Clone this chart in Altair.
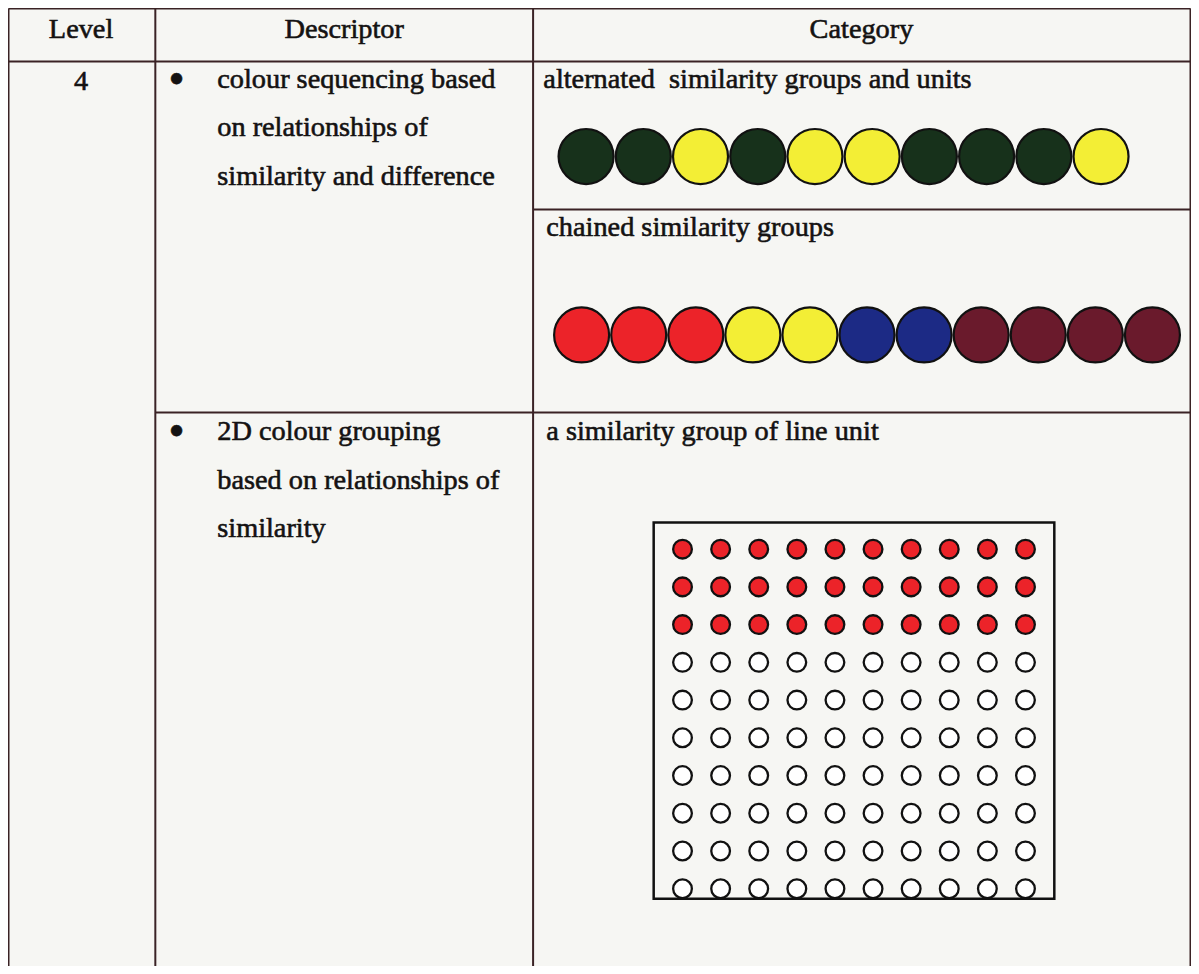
import altair as alt
import pandas as pd

# ---------------- data ----------------
header_labels = ["Level", "Descriptor", "Category"]
level_label = "4"
descriptor_1 = ["colour sequencing based", "on relationships of", "similarity and difference"]
descriptor_2 = ["2D colour grouping", "based on relationships of", "similarity"]
category_titles = ["alternated\u00a0 similarity groups and units",
                   "chained similarity groups",
                   "a similarity group of line unit"]
alternated_sequence = ["dark green", "dark green", "yellow", "dark green", "yellow",
                       "yellow", "dark green", "dark green", "dark green", "yellow"]
chained_sequence = ["red", "red", "red", "yellow", "yellow", "blue", "blue",
                    "maroon", "maroon", "maroon", "maroon"]
grid_rows = list(range(10))
grid_cols = list(range(10))
grid_filled_rows = 3
colour_names = ["dark green", "yellow", "red", "blue", "maroon", "white"]
colour_values = ["#17311b", "#f3ee35", "#ec2329", "#1c2a85", "#6a1a2c", "#ffffff"]

# ---------------- layout helpers (reference pixels -> plot pixels) ----------------
W, H = 1183, 958


def px(x):
    return round(0.5 + (x - 4) * (W - 1) / (1193 - 4), 2)


def py(y):
    return round(0.5 + (y - 7) * (H - 0.5) / (974 - 7), 2)


FONT = "Liberation Serif"
FS = 28.3
LINE = "#3a2225"
TXT = "#141212"

one = pd.DataFrame({"k": [0]})
layers = []

# table lines
h_lines = [(7, 4, 1193), (60.5, 4, 1193), (210, 531.7, 1193), (415, 151.7, 1193)]
v_lines = [4, 151.7, 531.7, 1193]
for y, x1, x2 in h_lines:
    layers.append(alt.Chart(one).mark_rule(color=LINE, strokeWidth=2).encode(
        x=alt.value(px(x1)), x2=alt.value(px(x2)), y=alt.value(py(y)), y2=alt.value(py(y))))
for x in v_lines:
    layers.append(alt.Chart(one).mark_rule(color=LINE, strokeWidth=2).encode(
        x=alt.value(px(x)), x2=alt.value(px(x)), y=alt.value(py(7)), y2=alt.value(H)))

# texts: (text, x, baseline y, align, size)
texts = [
    (header_labels[0], 77, 36.5, "center", FS),
    (header_labels[1], 341.7, 36.5, "center", FS),
    (header_labels[2], 862, 36.5, "center", FS),
    (level_label, 77, 89, "center", FS),
    ("\u2022", 173, 93, "center", 46),
    ("\u2022", 173, 449, "center", 46),
    (category_titles[0], 542, 87, "left", FS),
    (category_titles[1], 545, 237, "left", FS),
    (category_titles[2], 545, 443, "left", FS),
]
for i, t in enumerate(descriptor_1):
    texts.append((t, 214, 87 + 49 * i, "left", FS))
for i, t in enumerate(descriptor_2):
    texts.append((t, 214, 443 + 49 * i, "left", FS))

for t, x, y, al, fs in texts:
    layers.append(alt.Chart(one).mark_text(
        text=t, font=FONT, fontSize=fs, color=TXT, stroke=TXT, strokeWidth=0.6,
        align=al, baseline="alphabetic"
    ).encode(x=alt.value(px(x)), y=alt.value(py(y))))

fill_scale = alt.Scale(domain=colour_names, range=colour_values)


def seq_layer(seq, x_first, x_last, y_centre):
    df = pd.DataFrame({"pos": list(range(len(seq))), "colour": seq})
    return alt.Chart(df).mark_point(
        shape="circle", filled=True, size=3025, stroke="#111111", strokeWidth=2.2,
        opacity=1, fillOpacity=1, strokeOpacity=1
    ).encode(
        x=alt.X("pos:Q", axis=None,
                scale=alt.Scale(domain=[0, len(seq) - 1], range=[px(x_first), px(x_last)],
                                nice=False, zero=False)),
        y=alt.value(py(y_centre)),
        fill=alt.Fill("colour:N", scale=fill_scale, legend=None),
    )


layers.append(seq_layer(alternated_sequence, 585, 1103, 156.5))
layers.append(seq_layer(chained_sequence, 580.5, 1154.7, 336.7))

# grid of dots
grid = pd.DataFrame(
    [{"row": r, "col": c, "colour": "red" if r < grid_filled_rows else "white"}
     for r in grid_rows for c in grid_cols]
)
layers.append(alt.Chart(grid).mark_point(
    shape="circle", filled=True, size=350, stroke="#111111", strokeWidth=2.3,
    opacity=1, fillOpacity=1, strokeOpacity=1
).encode(
    x=alt.X("col:Q", axis=None,
            scale=alt.Scale(domain=[0, 9], range=[px(682), px(1027)], nice=False, zero=False)),
    y=alt.Y("row:Q", axis=None,
            scale=alt.Scale(domain=[0, 9], range=[py(553), py(896)], nice=False, zero=False)),
    fill=alt.Fill("colour:N", scale=fill_scale, legend=None),
))

# grid frame
layers.append(alt.Chart(one).mark_rect(
    fillOpacity=0, stroke="#111111", strokeWidth=2.5
).encode(x=alt.value(px(653)), x2=alt.value(px(1056)),
         y=alt.value(py(526)), y2=alt.value(py(906))))

chart = alt.layer(*layers).resolve_scale(
    x="independent", y="independent", fill="independent"
).properties(
    width=W, height=H, padding=0,
    autosize=alt.AutoSizeParams(type="none"),
    background="#f6f6f3",
).configure_view(stroke=None)

chart.save("out.html", embed_options={"renderer": "svg", "actions": False})
